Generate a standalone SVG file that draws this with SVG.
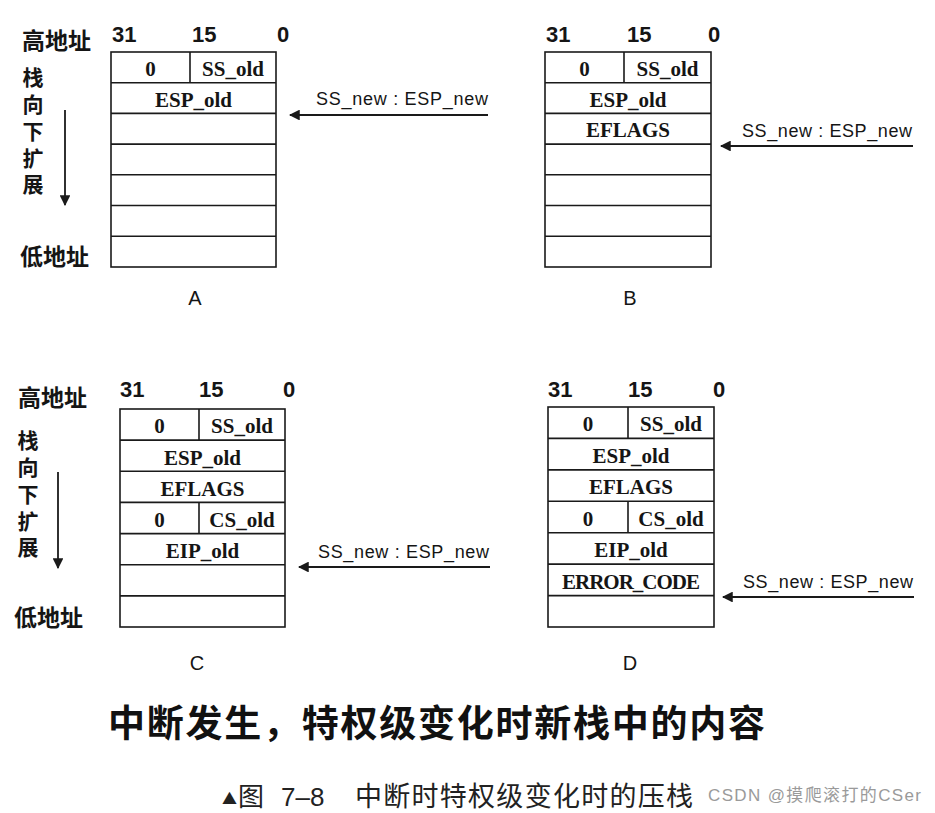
<svg xmlns="http://www.w3.org/2000/svg" width="935" height="813" viewBox="0 0 935 813">
<style>
.box{fill:none;stroke:#1a1a1a;stroke-width:1.6}
.ln{stroke:#1a1a1a;stroke-width:1.6;fill:none}
.cell{font-family:"Liberation Serif","Times New Roman",serif;font-weight:bold;font-size:21px;fill:#151515;text-anchor:middle}
.num{font-family:"Liberation Sans",Arial,sans-serif;font-weight:bold;font-size:22px;fill:#151515}
.ptr{font-family:"Liberation Sans",Arial,sans-serif;font-size:18px;fill:#151515}
.cn{font-family:"Noto Sans CJK SC","Noto Sans",sans-serif;font-weight:bold;font-size:23px;fill:#151515}
.vt{font-family:"Noto Sans CJK SC","Noto Sans",sans-serif;font-weight:bold;font-size:21px;fill:#151515;writing-mode:vertical-rl;letter-spacing:5.7px}
.lbl{font-family:"Liberation Sans",Arial,sans-serif;font-size:20px;fill:#151515;text-anchor:middle}
.arr{stroke:#1a1a1a;stroke-width:1.8;fill:none;marker-end:url(#ah)}
</style>
<defs>
<marker id="ah" viewBox="0 0 10 10" refX="9" refY="5" markerWidth="6" markerHeight="6" markerUnits="strokeWidth" orient="auto">
<path d="M0,0 L10,5 L0,10 z" fill="#1a1a1a"/>
</marker>
</defs>
<rect width="935" height="813" fill="#ffffff"/>

<g id="side-labels">
<text class="cn" x="22" y="49">高地址</text>
<text class="vt" x="33" y="67">栈向下扩展</text>
<text class="cn" x="20" y="265">低地址</text>
<text class="cn" x="18" y="406">高地址</text>
<text class="vt" x="28" y="430">栈向下扩展</text>
<text class="cn" x="14" y="626">低地址</text>
</g>

<g id="stack-A">
<text class="num" x="112" y="42">31</text>
<text class="num" x="192" y="42">15</text>
<text class="num" x="277" y="42">0</text>
<rect class="box" x="111" y="52" width="165" height="215"/>
<path class="ln" d="M111,82.7H276M111,113.4H276M111,144.1H276M111,174.8H276M111,205.5H276M111,236.2H276M190,52V82.7"/>
<text class="cell" x="150.5" y="76">0</text>
<text class="cell" x="233" y="76">SS_old</text>
<text class="cell" x="193.5" y="107">ESP_old</text>
<text class="lbl" x="195" y="305">A</text>
</g>

<g id="stack-B">
<text class="num" x="546" y="42">31</text>
<text class="num" x="627" y="42">15</text>
<text class="num" x="708" y="42">0</text>
<rect class="box" x="545" y="52" width="166" height="215"/>
<path class="ln" d="M545,82.7H711M545,113.4H711M545,144.1H711M545,174.8H711M545,205.5H711M545,236.2H711M624,52V82.7"/>
<text class="cell" x="584.5" y="76">0</text>
<text class="cell" x="667.5" y="76">SS_old</text>
<text class="cell" x="628" y="107">ESP_old</text>
<text class="cell" x="628" y="137">EFLAGS</text>
<text class="lbl" x="630" y="305">B</text>
</g>

<g id="stack-C">
<text class="num" x="120" y="397">31</text>
<text class="num" x="199" y="397">15</text>
<text class="num" x="283" y="397">0</text>
<rect class="box" x="120" y="409" width="165" height="218"/>
<path class="ln" d="M120,440.1H285M120,471.3H285M120,502.4H285M120,533.6H285M120,564.7H285M120,595.9H285M199,409V440.1M199,502.4V533.6"/>
<text class="cell" x="159.5" y="433">0</text>
<text class="cell" x="242" y="433">SS_old</text>
<text class="cell" x="202.5" y="465">ESP_old</text>
<text class="cell" x="202.5" y="496">EFLAGS</text>
<text class="cell" x="159.5" y="527">0</text>
<text class="cell" x="242" y="527">CS_old</text>
<text class="cell" x="202.5" y="558">EIP_old</text>
<text class="lbl" x="197" y="670">C</text>
</g>

<g id="stack-D">
<text class="num" x="548" y="397">31</text>
<text class="num" x="628" y="397">15</text>
<text class="num" x="713" y="397">0</text>
<rect class="box" x="548" y="407" width="166" height="220"/>
<path class="ln" d="M548,438.4H714M548,469.9H714M548,501.3H714M548,532.7H714M548,564.1H714M548,595.6H714M628,407V438.4M628,501.3V532.7"/>
<text class="cell" x="588" y="431">0</text>
<text class="cell" x="671" y="431">SS_old</text>
<text class="cell" x="631" y="463">ESP_old</text>
<text class="cell" x="631" y="494">EFLAGS</text>
<text class="cell" x="588" y="526">0</text>
<text class="cell" x="671" y="526">CS_old</text>
<text class="cell" x="631" y="557">EIP_old</text>
<text class="cell" x="631" y="589" textLength="138">ERROR_CODE</text>
<text class="lbl" x="630" y="670">D</text>
</g>

<g id="connectors">
<line class="arr" x1="65" y1="110" x2="65" y2="205"/>
<line class="arr" x1="58" y1="472" x2="58" y2="568"/>
<line class="arr" x1="488" y1="115" x2="290" y2="115"/>
<line class="arr" x1="913" y1="146" x2="721" y2="146"/>
<line class="arr" x1="490" y1="567" x2="299" y2="567"/>
<line class="arr" x1="914" y1="597" x2="723" y2="597"/>
</g>

<g id="pointer-labels">
<text class="ptr" x="316" y="105" textLength="172">SS_new : ESP_new</text>
<text class="ptr" x="742" y="137" textLength="170">SS_new : ESP_new</text>
<text class="ptr" x="318" y="558" textLength="171">SS_new : ESP_new</text>
<text class="ptr" x="743" y="588" textLength="170">SS_new : ESP_new</text>
</g>

<g id="titles">
<text x="108" y="737" textLength="657" style="font-family:'Noto Sans CJK SC','Noto Sans',sans-serif;font-weight:bold;font-size:37px;fill:#111">中断发生，特权级变化时新栈中的内容</text>
<text x="222" y="804" style="font-family:'Noto Sans CJK SC','Noto Sans',sans-serif;font-size:15px;fill:#222">▲</text>
<text x="238" y="806" style="font-family:'Noto Sans CJK SC','Noto Sans',sans-serif;font-size:26px;fill:#222">图</text>
<text x="281" y="806" style="font-family:'Liberation Sans',Arial,sans-serif;font-size:26px;fill:#222">7–8</text>
<text x="355" y="806" textLength="338" style="font-family:'Noto Sans CJK SC','Noto Sans',sans-serif;font-size:27px;fill:#222">中断时特权级变化时的压栈</text>
<text x="708" y="801" textLength="213" style="font-family:'Liberation Sans','Noto Sans CJK SC',sans-serif;font-size:17px;fill:#9a9a9a">CSDN @摸爬滚打的CSer</text>
</g>
</svg>
